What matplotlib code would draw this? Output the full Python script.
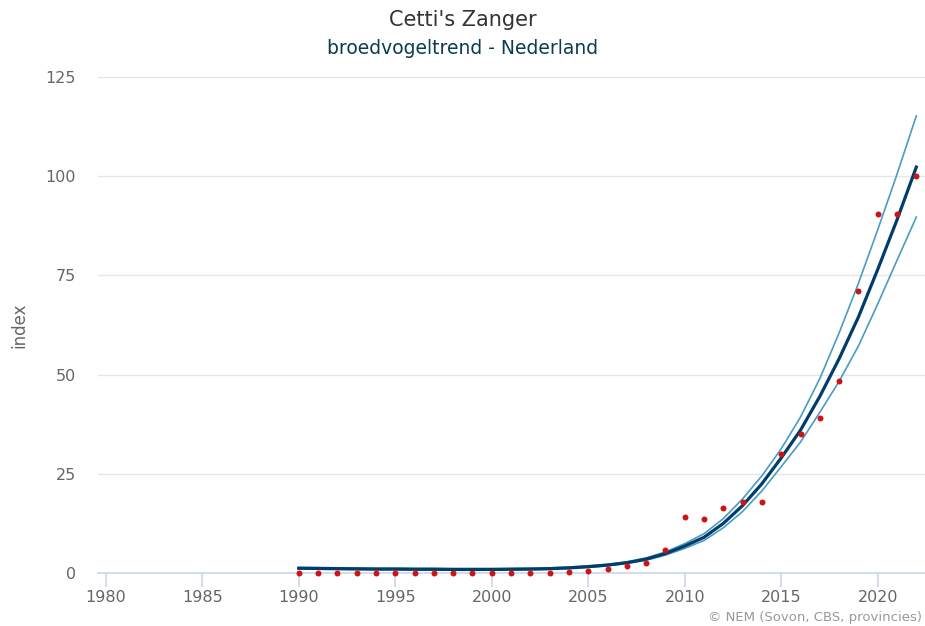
import matplotlib.pyplot as plt
import numpy as np

plt.rcParams["font.family"] = "DejaVu Sans"

years = np.arange(1990, 2023)

# yearly index values (red dots)
index_obs = [0.1, 0.1, 0.1, 0.1, 0.1, 0.1, 0.1, 0.1, 0.1, 0.1,
             0.1, 0.1, 0.1, 0.1, 0.3, 0.5, 1.0, 1.8, 2.5, 5.7,
             14.0, 13.5, 16.3, 18.0, 18.0, 30.0, 35.0, 39.0, 48.5, 71.0,
             90.5, 90.5, 100.0]

# smoothed trend with confidence band
trend = [1.2, 1.15, 1.1, 1.05, 1.0, 1.0, 0.95, 0.95, 0.9, 0.9,
         0.9, 0.95, 1.0, 1.1, 1.3, 1.6, 2.0, 2.6, 3.5, 4.9,
         6.8, 9.0, 12.5, 17.0, 22.5, 29.0, 36.0, 44.5, 54.0, 64.5,
         76.5, 89.0, 102.3]
upper = [1.4, 1.35, 1.3, 1.25, 1.2, 1.2, 1.15, 1.15, 1.1, 1.1,
         1.1, 1.15, 1.2, 1.3, 1.5, 1.8, 2.2, 2.8, 3.8, 5.3,
         7.4, 9.9, 13.7, 18.7, 24.5, 31.3, 39.3, 49.0, 60.5, 73.0,
         86.5, 100.5, 115.2]
lower = [1.0, 0.95, 0.9, 0.85, 0.8, 0.8, 0.75, 0.75, 0.7, 0.7,
         0.7, 0.75, 0.8, 0.9, 1.1, 1.4, 1.8, 2.4, 3.2, 4.5,
         6.2, 8.2, 11.4, 15.5, 20.7, 26.8, 33.0, 40.5, 48.3, 57.2,
         67.8, 78.8, 89.7]

xticks = np.arange(1980, 2021, 5)
yticks = [0, 25, 50, 75, 100, 125]

fig = plt.figure(figsize=(9.25, 6.26), dpi=100)
ax = fig.add_axes([98 / 925, 53 / 626, 827 / 925, 496 / 626])

ax.plot(years, upper, color="#4a9cc0", lw=1.2, zorder=2)
ax.plot(years, lower, color="#4a9cc0", lw=1.2, zorder=2)
ax.plot(years, trend, color="#003d6b", lw=2.3, zorder=3)
ax.plot(years, index_obs, "o", color="#cc1417", ms=4.3, mec="none",
        clip_on=False, zorder=4)

ax.set_xlim(1979.6, 2022.45)
ax.set_ylim(0, 125)
ax.set_xticks(xticks)
ax.set_yticks(yticks)
ax.grid(axis="y", color="#e6e6e6", lw=1)
ax.set_axisbelow(True)

for s in ["top", "right", "left"]:
    ax.spines[s].set_visible(False)
ax.spines["bottom"].set_color("#ccd6eb")
ax.spines["bottom"].set_linewidth(1.2)

ax.tick_params(axis="x", colors="#ccd6eb", length=10, width=1.2,
               labelcolor="#666666", labelsize=11.5, pad=2)
ax.tick_params(axis="y", length=0, labelcolor="#666666", labelsize=11.5, pad=16)

ax.set_ylabel("index", color="#666666", fontsize=12, labelpad=12)

fig.text(0.5, 1 - 20 / 626, "Cetti's Zanger", ha="center", va="center",
         fontsize=15, color="#333333")
fig.text(0.5, 1 - 48 / 626, "broedvogeltrend - Nederland", ha="center",
         va="center", fontsize=13.5, color="#0b3d4f")
fig.text(1 - 3 / 925, 1 - 618 / 626, "© NEM (Sovon, CBS, provincies)",
         ha="right", va="center", fontsize=9.5, color="#999999")

fig.savefig("out.png", dpi=100)
